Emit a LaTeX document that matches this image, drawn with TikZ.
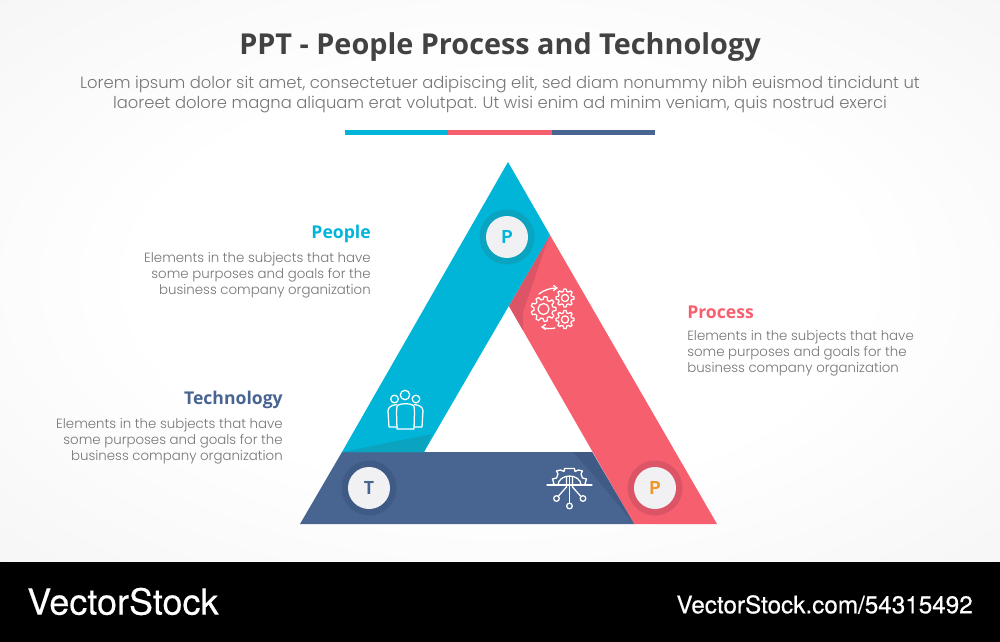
\documentclass[tikz,border=0pt]{standalone}
\usepackage{fontspec}
\setmainfont{Poppins}
\newfontfamily\bodyfont{Poppins}[UprightFont=* Light]
\newfontfamily\headfont{Poppins}[UprightFont=* SemiBold]
\newfontfamily\titlefont{Open Sans}[UprightFont=* Bold]
\newfontfamily\logofont{TeX Gyre Heros}[FakeBold=0.4]
\definecolor{cblue}{HTML}{00B5D8}
\definecolor{cred}{HTML}{F65F6E}
\definecolor{cnavy}{HTML}{486591}
\definecolor{cblueS}{HTML}{0AA3C0}
\definecolor{credS}{HTML}{DC5567}
\definecolor{cnavyS}{HTML}{3F5A84}
\definecolor{ctext}{HTML}{767676}
\definecolor{ctitle}{HTML}{424242}
\definecolor{corange}{HTML}{F0962A}
\definecolor{cdisc}{HTML}{F1F1F3}
\definecolor{cbg}{HTML}{EFEFEF}
\pgfdeclareradialshading{bgshade}{\pgfpoint{0bp}{0bp}}{color(0bp)=(white);color(18bp)=(white);color(50bp)=(cbg);color(100bp)=(cbg)}
\tikzset{
  disc/.style={circle,inner sep=0pt,minimum size=31.5pt,fill=cdisc,font=\headfont\fontsize{14}{14}\selectfont},
  bodytext/.style={font=\bodyfont\fontsize{10}{12}\selectfont,text=ctext,inner sep=0pt},
  headtext/.style={font=\titlefont\fontsize{13.2}{16}\selectfont,inner sep=0pt},
  icon/.style={draw=white,line width=0.95pt,line join=round,line cap=round},
}
% gear: x, y, outer radius, inner radius, hole radius, teeth
\newcommand{\geargl}[6]{%
  \begin{scope}[shift={(#1,#2)}]
    \pgfmathsetmacro{\stepa}{360/#6}
    \draw[icon] (0:#3)
      \foreach \k in {1,...,#6}{
        -- ({(\k-1)*\stepa+0.17*\stepa}:#3)
        -- ({(\k-1)*\stepa+0.33*\stepa}:#4)
        -- ({(\k-1)*\stepa+0.67*\stepa}:#4)
        -- ({(\k-1)*\stepa+0.83*\stepa}:#3)
      } -- cycle;
    \draw[icon] (0,0) circle (#5);
  \end{scope}}
\begin{document}
\begin{tikzpicture}[x=0.75pt,y=-0.75pt]
\useasboundingbox (0,0) rectangle (1000,642);
% background
\shade[shading=bgshade] (0,0) rectangle (1000,562);
\fill[black] (0,562) rectangle (1000,642);
% title
\node[font=\titlefont\fontsize{21.6}{26}\selectfont,text=ctitle,inner sep=0pt] (title) at (500,47.5) {PPT - People Process and Technology};
\node[font=\bodyfont\fontsize{12.3}{15}\selectfont,text=ctext,inner sep=0pt,align=center] (sub) at (500,95)
  {Lorem ipsum dolor sit amet, consectetuer adipiscing elit, sed diam nonummy nibh euismod tincidunt ut\\
   laoreet dolore magna aliquam erat volutpat. Ut wisi enim ad minim veniam, quis nostrud exerci};
% rule
\fill[cblue] (345,130.5) rectangle (448,134.5);
\fill[cred] (448,130.5) rectangle (552,134.5);
\fill[cnavy] (552,130.5) rectangle (655,134.5);
% bands
\fill[cred] (550,235) -- (717,524) -- (634,524) -- (509,306) -- cycle;
\fill[credS] (550,235) -- (545,248) -- (523,312) -- (522.8,330) -- (509,306) -- cycle;
\fill[cnavy] (342,452) -- (592,452) -- (634,524) -- (300,524) -- cycle;
\fill[cnavyS] (573,452) -- (592,452) -- (634,524) .. controls (610,495) and (590,470) .. cycle;
\fill[cblue] (508,162) -- (550,235) -- (424,452) -- (342,452) -- cycle;
\fill[cblueS] (342,452) -- (432,434) -- (424,452) -- cycle;
% discs
\fill[cblueS] (507,237) circle (27.5);
\node[disc,text=cblue] (p1) at (507,237) {P};
\fill[cnavyS] (369,488) circle (27.5);
\node[disc,text=cnavy] (t1) at (369,488) {T};
\fill[credS] (655,488) circle (27.5);
\node[disc,text=corange] (p2) at (655,488) {P};
% gears icon
\geargl{543.5}{309}{12.5}{9.5}{5.5}{9}
\geargl{565}{298}{9}{6.8}{3.6}{8}
\geargl{565}{319.5}{9}{6.8}{3.6}{8}
\draw[icon] (539,294) .. controls (544,290) and (550,288) .. (557,288);
\draw[icon] (553.5,285.5) -- (557,288) -- (553.5,290.5);
\draw[icon] (555,328) .. controls (551,329) and (546,329) .. (542,327);
\draw[icon] (545.5,324.5) -- (542,327) -- (545.5,329.5);
% people icon
\draw[icon] (405,395) circle (4.7);
\draw[icon] (394.5,399) circle (3.8);
\draw[icon] (416,399) circle (3.8);
\draw[icon] (397,429) -- (414,429) -- (414.5,412) -- (414,406) .. controls (411,403) and (400,403) .. (397,406) -- (396.5,412) -- cycle;
\draw[icon] (396.5,404.5) .. controls (392,405) and (388,407) .. (388,411) -- (389,427) -- (397,427);
\draw[icon] (414.5,404.5) .. controls (419,405) and (423,407) .. (423,411) -- (422,427) -- (414,427);
% technology icon
\begin{scope}[shift={(569.5,485)}]
  \draw[icon] (-22.5,0) -- (22.5,0);
  \draw[icon] (-18,0) -- (-15.5,-1) -- (-17,-6) -- (-13,-7) -- (-11.5,-11) -- (-13,-14) -- (-9,-15) -- (-5.5,-13.5) -- (-5,-16.5) -- (5,-16.5) -- (5.5,-13.5) -- (9,-15) -- (13,-14) -- (11.5,-11) -- (13,-7) -- (17,-6) -- (15.5,-1) -- (18,0);
  \draw[icon] (-11.5,0) arc (180:360:11.5 and 9);
  \draw[icon] (-3,-8.5) -- (-3,2) -- (-11,11);
  \draw[icon] (3,-8.5) -- (3,2) -- (11,11);
  \draw[icon] (0,-8.5) -- (0,18);
  \draw[icon] (0,21) circle (2.8);
  \draw[icon] (-13,13.5) circle (2.8);
  \draw[icon] (13.5,13.5) circle (2.8);
\end{scope}
% labels
\node[headtext,text=cblue,anchor=east] (h1) at (371,234) {People};
\node[bodytext,align=right,anchor=east] (b1) at (371,275) {Elements in the subjects that have\\some purposes and goals for the\\business company organization};
\node[headtext,text=cred,anchor=west] (h2) at (687,312) {Process};
\node[bodytext,align=left,anchor=west] (b2) at (687,353) {Elements in the subjects that have\\some purposes and goals for the\\business company organization};
\node[headtext,text=cnavy,anchor=east] (h3) at (283,400) {Technology};
\node[bodytext,align=right,anchor=east] (b3) at (283,441.5) {Elements in the subjects that have\\some purposes and goals for the\\business company organization};
% footer
\node[font=\logofont\fontsize{27}{30}\selectfont,text=white,inner sep=0pt,anchor=west] (logo) at (27,601.5) {VectorStock};
\node[font=\logofont\fontsize{18.2}{20}\selectfont,text=white,inner sep=0pt,anchor=east] (url) at (973,604.5) {VectorStock.com/54315492};
\end{tikzpicture}
\end{document}
